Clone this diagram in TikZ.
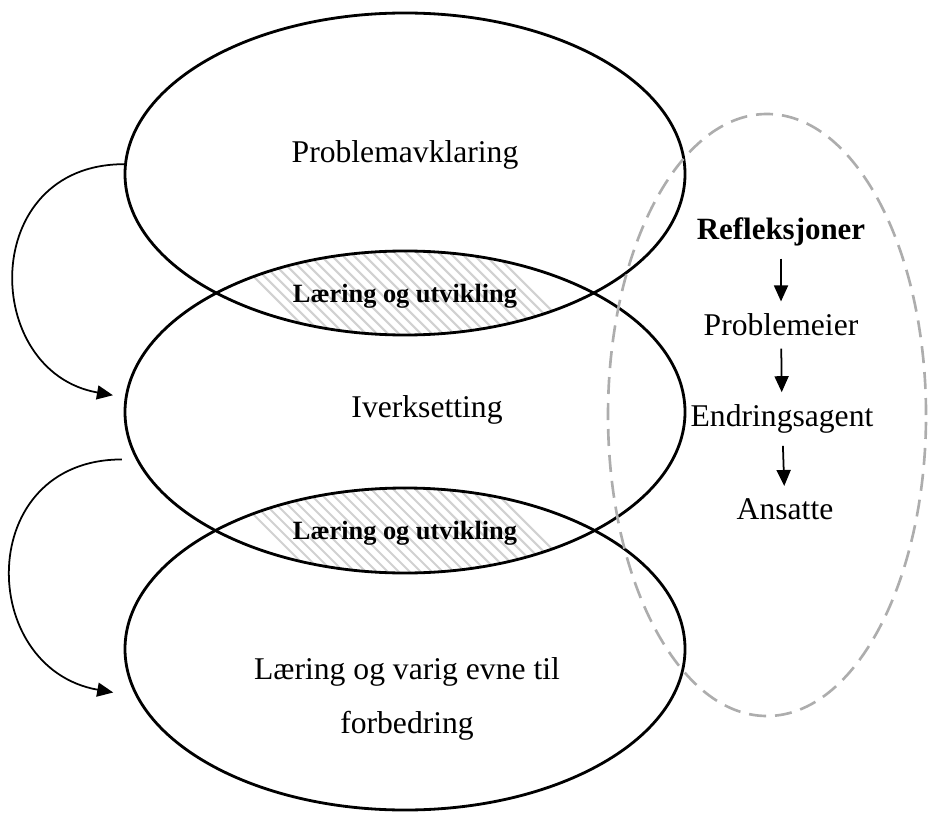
\documentclass[tikz,border=0pt]{standalone}
\usepackage{fontspec}
\setmainfont{Liberation Serif}
\usetikzlibrary{shapes.geometric,arrows.meta}

\definecolor{hatchgray}{gray}{0.82}
\definecolor{dashgray}{gray}{0.68}

\begin{document}
\begin{tikzpicture}[
    stage/.style={ellipse, draw, thick, minimum width=5.6cm, minimum height=3.22cm, inner sep=0pt},
    ring/.style={ellipse, draw=dashgray, line width=0.75pt, dash pattern=on 0.17cm off 0.09cm,
        minimum width=3.18cm, minimum height=6.02cm, inner sep=0pt},
    txt/.style={font=\fontsize{9}{11}\selectfont},
    lenstxt/.style={font=\fontsize{7.5}{9}\selectfont\bfseries},
    hatch/.style={hatchgray, line width=0.6pt},
    arr/.style={-{Triangle[length=1.6mm,width=1.4mm]}, line width=0.5pt}
]
    \useasboundingbox (0,0) rectangle (9.28,-8.12);

    % Centres of the three stages
    \coordinate (c1) at (4.05,-1.74);
    \coordinate (c2) at (4.05,-4.12);
    \coordinate (c3) at (4.05,-6.49);

    % Hatching in the overlaps
    \foreach \a/\b/\y in {c1/c2/-2.93, c2/c3/-5.31} {
        \begin{scope}
            \clip (\a) ellipse [x radius=2.8, y radius=1.61];
            \clip (\b) ellipse [x radius=2.8, y radius=1.61];
            \foreach \x in {2.70,2.81,...,5.45}
                \draw[hatch] ({\x-0.5},{\y+0.5}) -- ({\x+0.5},{\y-0.5});
        \end{scope}
    }

    % The three stages
    \node[stage] (e1) at (c1) {};
    \node[stage] (e2) at (c2) {};
    \node[stage] (e3) at (c3) {};

    \node[txt] (t1) at (4.05,-1.55) {Problemavklaring};
    \node[txt] (t2) at (4.27,-4.10) {Iverksetting};
    \node[txt, align=center, font=\fontsize{9}{15.6}\selectfont] (t3) at (4.07,-6.99)
        {Læring og varig evne til\\forbedring};

    % Overlap labels
    \node[lenstxt] (l1) at (4.05,-2.96) {Læring og utvikling};
    \node[lenstxt] (l2) at (4.05,-5.33) {Læring og utvikling};

    % Arrows on the left
    \draw[arr, shorten >=0.12cm] (e1.178) to[out=180, in=170, looseness=1.6] (e2.177);
    \draw[arr, shorten <=0.14cm, shorten >=0.23cm] (e2.190) to[out=180, in=170, looseness=1.75] (e3.190);

    % Reflections
    \node[ring] (rf) at (7.67,-4.15) {};
    \node[font=\fontsize{8.8}{10}\selectfont\bfseries] (refl) at (7.81,-2.32) {Refleksjoner};
    \node[txt] (prob) at (7.81,-3.25) {Problemeier};
    \node[txt] (endr) at (7.82,-4.19) {Endringsagent};
    \node[txt] (ans) at (7.85,-5.09) {Ansatte};

    \draw[arr] (refl) -- (prob);
    \draw[arr] (prob) -- (endr);
    \draw[arr] (endr) -- (ans);
\end{tikzpicture}
\end{document}
